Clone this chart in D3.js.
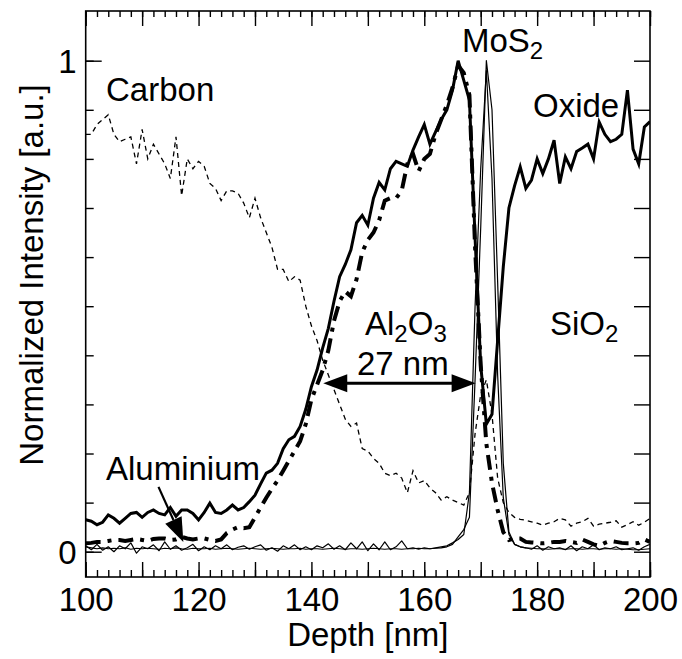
<!DOCTYPE html>
<html>
<head>
<meta charset="utf-8">
<script src="https://cdn.jsdelivr.net/npm/d3@7"></script>
<style>
  html, body { margin: 0; padding: 0; background: #fff; }
  svg { display: block; font-family: "Liberation Sans", Arial, Helvetica, sans-serif; }
</style>
</head>
<body>
<svg id="chart" width="682" height="659"></svg>
<script>
// Depth grid (nm), one sample per nanometre
const depth = d3.range(100, 201, 1);

// Oxide signal (thick solid)
const oxide = [
  0.065, 0.062, 0.055, 0.060, 0.075, 0.068, 0.058, 0.068, 0.078, 0.080,
  0.070, 0.080, 0.085, 0.078, 0.075, 0.090, 0.072, 0.085, 0.085, 0.078,
  0.065, 0.080, 0.099, 0.080, 0.078, 0.085, 0.095, 0.085, 0.090, 0.102,
  0.115, 0.138, 0.160, 0.166, 0.180, 0.210, 0.228, 0.235, 0.255, 0.290,
  0.336, 0.370, 0.415, 0.455, 0.510, 0.560, 0.585, 0.615, 0.670, 0.685,
  0.665, 0.720, 0.752, 0.737, 0.780, 0.795, 0.790, 0.785, 0.818, 0.845,
  0.870, 0.830, 0.855, 0.880, 0.900, 0.940, 1.000, 0.960, 0.920, 0.640,
  0.380, 0.260, 0.280, 0.430, 0.580, 0.700, 0.745, 0.784, 0.740, 0.757,
  0.800, 0.770, 0.800, 0.838, 0.750, 0.804, 0.780, 0.815, 0.822, 0.830,
  0.800, 0.875, 0.850, 0.835, 0.840, 0.850, 0.940, 0.820, 0.790, 0.865,
  0.876
];

// Aluminium signal (thick dash-dot)
const aluminium = [
  0.017, 0.018, 0.020, 0.020, 0.022, 0.024, 0.024, 0.022, 0.024, 0.026,
  0.024, 0.022, 0.026, 0.027, 0.027, 0.024, 0.025, 0.030, 0.027, 0.025,
  0.027, 0.027, 0.024, 0.022, 0.025, 0.038, 0.045, 0.050, 0.048, 0.050,
  0.070, 0.090, 0.110, 0.128, 0.145, 0.165, 0.185, 0.205, 0.225, 0.260,
  0.310, 0.340, 0.370, 0.410, 0.470, 0.510, 0.530, 0.520, 0.555, 0.610,
  0.635, 0.650, 0.675, 0.715, 0.720, 0.720, 0.735, 0.790, 0.810, 0.775,
  0.800, 0.810, 0.850, 0.880, 0.910, 0.945, 0.990, 0.975, 0.930, 0.620,
  0.380, 0.220, 0.140, 0.085, 0.040, 0.024, 0.027, 0.027, 0.020, 0.019,
  0.018, 0.017, 0.018, 0.020, 0.020, 0.022, 0.020, 0.018, 0.025, 0.020,
  0.015, 0.012, 0.018, 0.022, 0.020, 0.018, 0.017, 0.017, 0.018, 0.025,
  0.020
];

// Carbon signal (thin dashed)
const carbon = [
  0.850, 0.850, 0.870, 0.880, 0.890, 0.850, 0.835, 0.840, 0.845, 0.790,
  0.860, 0.800, 0.830, 0.810, 0.790, 0.760, 0.845, 0.725, 0.800, 0.780,
  0.795, 0.785, 0.750, 0.740, 0.715, 0.735, 0.735, 0.730, 0.710, 0.680,
  0.720, 0.680, 0.650, 0.620, 0.575, 0.575, 0.550, 0.560, 0.553, 0.500,
  0.460, 0.430, 0.390, 0.360, 0.330, 0.300, 0.270, 0.255, 0.262, 0.210,
  0.205, 0.190, 0.180, 0.160, 0.155, 0.160, 0.150, 0.120, 0.165, 0.140,
  0.145, 0.130, 0.120, 0.105, 0.112, 0.105, 0.100, 0.095, 0.120, 0.240,
  0.320, 0.350, 0.280, 0.150, 0.100, 0.080, 0.070, 0.066, 0.064, 0.061,
  0.058, 0.054, 0.058, 0.061, 0.068, 0.065, 0.052, 0.058, 0.061, 0.068,
  0.052, 0.056, 0.058, 0.060, 0.063, 0.050, 0.055, 0.061, 0.054, 0.060,
  0.068
];

// MoS2 signals (thin solid)
const mos2a = [
  0.010, 0.008, 0.006, 0.008, 0.006, 0.007, 0.006, 0.008, 0.005, 0.007,
  0.006, 0.007, 0.006, 0.005, 0.007, 0.006, 0.008, 0.006, 0.005, 0.007,
  0.006, 0.006, 0.007, 0.005, 0.006, 0.007, 0.006, 0.005, 0.006, 0.007,
  0.006, 0.005, 0.006, 0.007, 0.006, 0.005, 0.006, 0.006, 0.007, 0.005,
  0.006, 0.006, 0.005, 0.006, 0.007, 0.006, 0.005, 0.006, 0.006, 0.005,
  0.006, 0.007, 0.006, 0.005, 0.006, 0.006, 0.005, 0.006, 0.006, 0.007,
  0.006, 0.006, 0.007, 0.008, 0.010, 0.015, 0.030, 0.045, 0.070, 0.350,
  0.660, 1.000, 0.900, 0.550, 0.180, 0.040, 0.015, 0.010, 0.008, 0.007,
  0.006, 0.006, 0.005, 0.006, 0.006, 0.005, 0.006, 0.006, 0.005, 0.006,
  0.006, 0.005, 0.006, 0.006, 0.005, 0.006, 0.005, 0.004, 0.004, 0.005,
  0.006
];
const mos2b = [
  0.012, 0.004, 0.015, 0.003, 0.010, 0.000, 0.012, 0.006, 0.018, -0.003,
  0.010, 0.006, 0.014, 0.002, 0.020, 0.005, 0.012, 0.003, 0.008, 0.015,
  0.002, 0.010, 0.004, 0.012, 0.006, 0.014, 0.004, 0.009, 0.012, 0.005,
  0.010, 0.014, 0.003, 0.008, 0.001, 0.012, 0.006, 0.014, 0.004, 0.010,
  0.004, 0.012, 0.008, 0.016, 0.005, 0.012, 0.004, 0.018, 0.006, 0.020,
  0.002, 0.016, 0.004, 0.020, 0.004, 0.010, 0.022, 0.006, 0.008, 0.005,
  0.008, 0.006, 0.008, 0.010, 0.012, 0.018, 0.025, 0.035, 0.120, 0.500,
  0.780, 0.980, 0.760, 0.360, 0.110, 0.035, 0.015, 0.010, 0.008, 0.005,
  0.012, 0.003, 0.010, 0.006, 0.008, 0.004, 0.012, 0.002, 0.010, 0.006,
  0.014, 0.004, 0.008, 0.006, 0.010, 0.004, 0.006, 0.008, 0.003, 0.010,
  0.015
];

// Axis ticks
const xLabelTicks = [100, 120, 140, 160, 180, 200];
const yLabelTicks = [0, 1];

// Annotations: Al2O3 thickness arrow (depth from/to, level) and Aluminium pointer
const thicknessArrow = { from: 142.1, to: 169.1, level: 0.343 };
const alPointer = { from: [112.9, 0.132], to: [117.3, 0.020] };

const svg = d3.select("#chart");
const L = 85.7, R = 650, T = 11, B = 577;

const x = d3.scaleLinear().domain([100, 200]).range([L, R]);
const y = d3.scaleLinear().domain([-0.0515, 1.1012]).range([B, T]);

const fontSize = 33, subSize = 24, subShift = 7;

// Clip curves to the frame
svg.append("clipPath").attr("id", "plot-clip")
  .append("rect").attr("x", L).attr("y", T).attr("width", R - L).attr("height", B - T);

const plot = svg.append("g").attr("clip-path", "url(#plot-clip)");

const line = vals => d3.line()
  .x((d, i) => x(depth[i]))
  .y(d => y(d))(vals);

// Carbon: thin dashed
plot.append("path").attr("d", line(carbon))
  .attr("fill", "none").attr("stroke", "#000").attr("stroke-width", 1.3)
  .attr("stroke-dasharray", "5,4");

// MoS2: thin solid
[mos2a, mos2b].forEach(v => {
  plot.append("path").attr("d", line(v))
    .attr("fill", "none").attr("stroke", "#000").attr("stroke-width", 1.2)
    .attr("stroke-linejoin", "round");
});

// Oxide: thick solid
plot.append("path").attr("d", line(oxide))
  .attr("fill", "none").attr("stroke", "#000").attr("stroke-width", 3)
  .attr("stroke-linejoin", "miter");

// Aluminium: thick dash-dot
plot.append("path").attr("d", line(aluminium))
  .attr("fill", "none").attr("stroke", "#000").attr("stroke-width", 4)
  .attr("stroke-dasharray", "15,7,4,7");

// Frame
svg.append("rect").attr("x", L).attr("y", T).attr("width", R - L).attr("height", B - T)
  .attr("fill", "none").attr("stroke", "#000").attr("stroke-width", 1.6);

// Ticks (all pointing inward)
function tickAxis(axisFn, scale, values, size, transform) {
  const g = svg.append("g").attr("transform", transform)
    .call(axisFn(scale).tickValues(values).tickSize(-size).tickFormat(""));
  g.select(".domain").remove();
  g.selectAll(".tick text").remove();
  g.selectAll(".tick line").attr("stroke", "#000").attr("stroke-width", 1.4);
  return g;
}
const xMinor = d3.range(100, 201, 2);
const xMajor = d3.range(100, 201, 10);
const yMinor = d3.range(0, 11, 1).map(i => i / 10);

tickAxis(d3.axisBottom, x, xMinor, 7, `translate(0,${B})`);
tickAxis(d3.axisBottom, x, xMajor, 15, `translate(0,${B})`);
tickAxis(d3.axisTop, x, xMinor, 6, `translate(0,${T})`);
tickAxis(d3.axisTop, x, xMajor, 15, `translate(0,${T})`);
tickAxis(d3.axisLeft, y, yMinor, 8, `translate(${L},0)`);
tickAxis(d3.axisLeft, y, yLabelTicks, 16, `translate(${L},0)`);
tickAxis(d3.axisRight, y, yMinor, 16, `translate(${R},0)`);

// Tick labels
const xl = svg.append("g").attr("transform", `translate(0,${B})`)
  .call(d3.axisBottom(x).tickValues(xLabelTicks).tickSize(0).tickPadding(10).tickFormat(d3.format("d")));
xl.select(".domain").remove();
xl.selectAll("text").attr("font-size", fontSize).attr("fill", "#000")
  .attr("font-family", "Liberation Sans, Arial, sans-serif")
  .attr("dy", null).attr("y", 34);

const yl = svg.append("g").attr("transform", `translate(${L},0)`)
  .call(d3.axisLeft(y).tickValues(yLabelTicks).tickSize(0).tickPadding(9).tickFormat(d3.format("d")));
yl.select(".domain").remove();
yl.selectAll("text").attr("font-size", fontSize).attr("fill", "#000")
  .attr("font-family", "Liberation Sans, Arial, sans-serif")
  .attr("dy", "0.35em");

// Axis titles
svg.append("text").attr("x", (L + R) / 2).attr("y", 646)
  .attr("text-anchor", "middle").attr("font-size", fontSize).text("Depth [nm]");
svg.append("text")
  .attr("transform", "translate(43,275) rotate(-90)")
  .attr("text-anchor", "middle").attr("font-size", fontSize)
  .text("Normalized Intensity [a.u.]");

// Text labels; parts are plain strings or { sub } subscripts
function label(px, py, parts) {
  const t = svg.append("text").attr("x", px).attr("y", py).attr("font-size", fontSize);
  let shifted = false;
  parts.forEach(p => {
    if (typeof p === "string") {
      t.append("tspan").attr("dy", shifted ? -subShift : 0).text(p);
      shifted = false;
    } else {
      t.append("tspan").attr("font-size", subSize).attr("dy", subShift).text(p.sub);
      shifted = true;
    }
  });
  return t;
}
label(106, 101, ["Carbon"]);
label(462, 52, ["MoS", { sub: "2" }]);
label(533, 117, ["Oxide"]);
label(365, 335, ["Al", { sub: "2" }, "O", { sub: "3" }]);
label(357, 375, ["27 nm"]);
label(550, 335, ["SiO", { sub: "2" }]);
label(106, 480, ["Aluminium"]);

// Arrow helper: filled triangular head at (x1, y1); returns the head's base point
function arrowHead(x0, y0, x1, y1, len, half) {
  const a = Math.atan2(y1 - y0, x1 - x0);
  const bx = x1 - len * Math.cos(a), by = y1 - len * Math.sin(a);
  const nx = -Math.sin(a) * half, ny = Math.cos(a) * half;
  svg.append("path")
    .attr("d", `M${x1},${y1}L${bx + nx},${by + ny}L${bx - nx},${by - ny}Z`)
    .attr("fill", "#000");
  return [bx, by];
}

// Double-headed thickness arrow
{
  const ay = y(thicknessArrow.level);
  const x0 = x(thicknessArrow.from), x1 = x(thicknessArrow.to);
  const [b1x] = arrowHead(x1, ay, x0, ay, 24, 9);
  const [b2x] = arrowHead(x0, ay, x1, ay, 24, 9);
  svg.append("line").attr("x1", b1x - 1).attr("x2", b2x + 1).attr("y1", ay).attr("y2", ay)
    .attr("stroke", "#000").attr("stroke-width", 3);
}

// Aluminium pointer
{
  const x0 = x(alPointer.from[0]), y0 = y(alPointer.from[1]);
  const x1 = x(alPointer.to[0]), y1 = y(alPointer.to[1]);
  const [bx, by] = arrowHead(x0, y0, x1, y1, 24, 9);
  svg.append("line").attr("x1", x0).attr("y1", y0).attr("x2", bx).attr("y2", by)
    .attr("stroke", "#000").attr("stroke-width", 2.2);
}
</script>
</body>
</html>
